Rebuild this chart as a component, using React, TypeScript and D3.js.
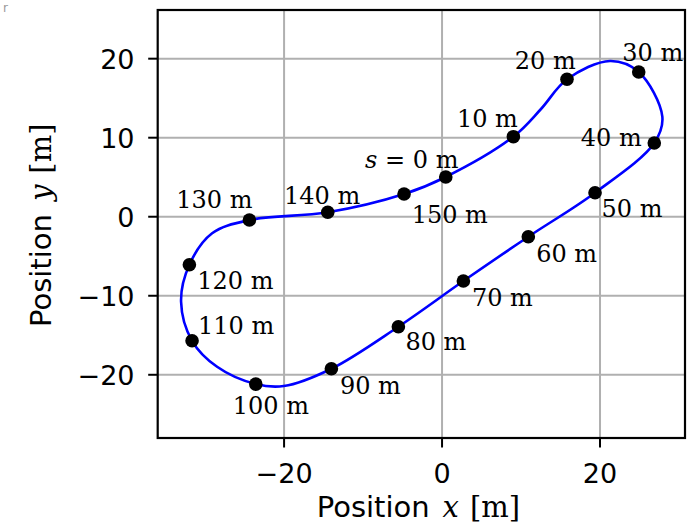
import React from "react";
import * as d3 from "d3";

// Marker data (arc length s and position)
const markerS = [0, 10, 20, 30, 40, 50, 60, 70, 80, 90, 100, 110, 120, 130, 140, 150];
const markerX = [0.47, 9.03, 15.82, 24.9, 26.87, 19.37, 10.92, 2.7, -5.53, -14.01, -23.58, -31.65, -31.99, -24.39, -14.47, -4.81];
const markerY = [5.03, 10.13, 17.39, 18.32, 9.33, 3.04, -2.53, -8.14, -13.92, -19.24, -21.18, -15.7, -6.08, -0.42, 0.56, 2.87];

// Path points (closed loop) in travel order
const pathX = [0.47, 9.03, 12.5, 15.82, 21.27, 24.9, 27.89, 26.87, 19.37, 10.92, 2.7, -5.53, -14.01, -20.04, -23.58, -28.48, -31.65, -33.04, -31.99, -29.11, -24.39, -14.47, -4.81];
const pathY = [5.03, 10.13, 13.6, 17.39, 19.71, 18.32, 12.66, 9.33, 3.04, -2.53, -8.14, -13.92, -19.24, -21.43, -21.18, -18.99, -15.7, -10.76, -6.08, -2.1, -0.42, 0.56, 2.87];

// Label offsets (pixels, text centre relative to marker)
const labelDX = [-34, -26, -21.7, 14, -43, 37, 38.3, 39, 37.5, 39, 15, 44, 46, -35, -5.7, 45.7];
const labelDY = [-18, -18.7, -19, -20, -6, 15.5, 16.7, 16.7, 14.7, 16.7, 20.7, -15.3, 15.7, -21, -16.7, 19.8];

const xTicks = [-20, 0, 20];
const yTicks = [-20, -10, 0, 10, 20];
const xDomain = [-36.0, 30.76];
const yDomain = [-28.0, 26.16];

const W = 695, H = 532;
const L = 157.7, R = 685, T = 10, B = 438;

const fmt = (v: number) => (v < 0 ? "\u2212" + Math.abs(v) : String(v));

export default function App() {
  const x = d3.scaleLinear().domain(xDomain).range([L, R]);
  const y = d3.scaleLinear().domain(yDomain).range([B, T]);
  const pts: [number, number][] = pathX.map((v, i) => [x(v), y(pathY[i])]);
  const line = d3.line().curve(d3.curveCatmullRomClosed.alpha(0.5));
  const d = line(pts) || "";
  const sans = "DejaVu Sans, sans-serif";
  const serif = "DejaVu Serif, serif";
  const fs = 27;
  const lfs = 29;
  const afs = 24;
  const axisLabel = (v: string) => (
    <>
      <tspan>Position</tspan>
      <tspan dx={13} fontFamily={serif} fontStyle="italic" fontSize={29}>{v}</tspan>
      <tspan dx={11} fontFamily={serif} fontSize={29}>[m]</tspan>
    </>
  );
  return (
    <svg width={W} height={H} style={{ position: "absolute", left: 0, top: 0, background: "#fff" }}>
      <rect x={0} y={0} width={W} height={H} fill="#fff" />
      <text x={3} y={12} fontSize={12} fill="#999" fontFamily={sans}>r</text>
      <defs>
        <clipPath id="clip">
          <rect x={L} y={T} width={R - L} height={B - T} />
        </clipPath>
      </defs>
      {/* grid */}
      {xTicks.map((t) => (
        <line key={"gx" + t} x1={x(t)} x2={x(t)} y1={T} y2={B} stroke="#b0b0b0" strokeWidth={2} />
      ))}
      {yTicks.map((t) => (
        <line key={"gy" + t} x1={L} x2={R} y1={y(t)} y2={y(t)} stroke="#b0b0b0" strokeWidth={2} />
      ))}
      <g clipPath="url(#clip)">
        <path d={d} fill="none" stroke="#0000ff" strokeWidth={2.6} />
        {markerS.map((s, i) => (
          <circle key={"m" + s} cx={x(markerX[i])} cy={y(markerY[i])} r={6.8} fill="#000" />
        ))}
      </g>
      {markerS.map((s, i) => {
        const cx = x(markerX[i]) + labelDX[i];
        const cy = y(markerY[i]) + labelDY[i] + 8.7;
        return (
          <text key={"l" + s} x={cx} y={cy} textAnchor="middle" fontFamily={serif} fontSize={afs} fill="#000">
            {s === 0 ? (
              <>
                <tspan fontStyle="italic">s</tspan>
                <tspan> = 0 m</tspan>
              </>
            ) : (
              `${s} m`
            )}
          </text>
        );
      })}
      {/* frame */}
      <rect x={L} y={T} width={R - L} height={B - T} fill="none" stroke="#000" strokeWidth={2.2} />
      {/* ticks */}
      {xTicks.map((t) => (
        <g key={"xt" + t}>
          <line x1={x(t)} x2={x(t)} y1={B} y2={B + 9.5} stroke="#000" strokeWidth={2} />
          <text x={x(t)} y={482.7} textAnchor="middle" fontFamily={sans} fontSize={fs} fill="#000">{fmt(t)}</text>
        </g>
      ))}
      {yTicks.map((t) => (
        <g key={"yt" + t}>
          <line x1={L - 9.5} x2={L} y1={y(t)} y2={y(t)} stroke="#000" strokeWidth={2} />
          <text x={134.5} y={y(t) + 9.9} textAnchor="end" fontFamily={sans} fontSize={fs} fill="#000">{fmt(t)}</text>
        </g>
      ))}
      {/* axis labels */}
      <text x={316.7} y={517.3} fontSize={lfs} fill="#000" fontFamily={sans}>
        {axisLabel("x")}
      </text>
      <text transform={`translate(51,327) rotate(-90)`} fontSize={lfs} fill="#000" fontFamily={sans}>
        {axisLabel("y")}
      </text>
    </svg>
  );
}
